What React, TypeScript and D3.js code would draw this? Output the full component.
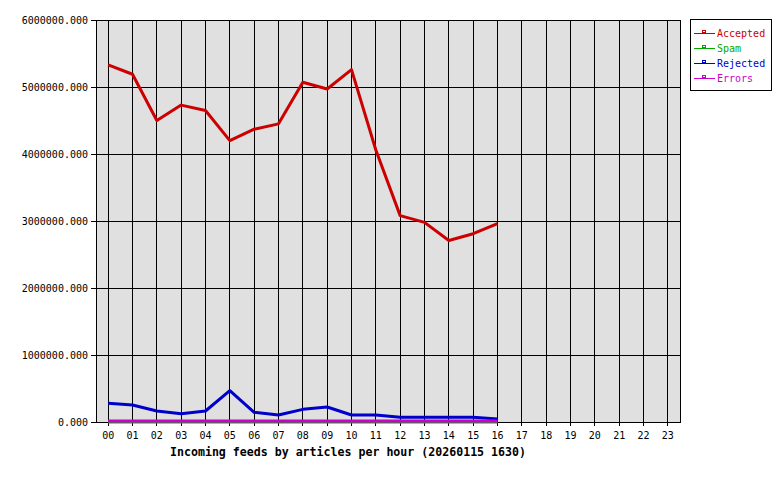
import React from "react";
import * as d3 from "d3";

const hours = ["00","01","02","03","04","05","06","07","08","09","10","11","12","13","14","15","16","17","18","19","20","21","22","23"];
const accepted = [5330000, 5190000, 4500000, 4730000, 4650000, 4200000, 4370000, 4450000, 5070000, 4970000, 5260000, 4060000, 3080000, 2980000, 2710000, 2810000, 2960000];
const spam = [0, 0, 0, 0, 0, 0, 0, 0, 0, 0, 0, 0, 0, 0, 0, 0, 0];
const rejected = [279000, 254000, 164000, 124000, 164000, 467000, 145000, 104000, 189000, 224000, 104000, 104000, 70000, 70000, 70000, 70000, 45000];
const errors = [15000, 15000, 15000, 15000, 15000, 15000, 15000, 15000, 15000, 15000, 15000, 15000, 15000, 15000, 15000, 15000, 15000];
const yTicks = [0, 1000000, 2000000, 3000000, 4000000, 5000000, 6000000];
const seriesNames = ["Accepted", "Spam", "Rejected", "Errors"];
const seriesColors = ["#cc0000", "#00aa00", "#0000cc", "#cc00cc"];
const title = "Incoming feeds by articles per hour (20260115 1630)";

export default function App() {
  const W = 780, H = 480;
  const left = 96, right = 680, top = 20, bottom = 422;
  const x = d3.scaleBand<string>().domain(hours).range([left, right]);
  const cx = (i: number) => (x(hours[i]) as number) + x.bandwidth() / 2;
  const y = d3.scaleLinear().domain([0, 6000000]).range([bottom, top]);
  const line = d3.line<number>().x((_, i) => cx(i)).y(d => y(d));
  const data = [accepted, spam, rejected, errors];
  const mono = "'DejaVu Sans Mono', monospace";
  return (
    <svg width={W} height={H} style={{ position: "absolute", left: 0, top: 0, background: "#fff" }}>
      <rect x={left} y={top} width={right - left} height={bottom - top} fill="#e0e0e0" />
      {hours.map((h, i) => (
        <line key={"vg" + h} x1={cx(i) } x2={cx(i)} y1={top} y2={bottom + 4} stroke="#000" strokeWidth={1} shapeRendering="crispEdges" />
      ))}
      {yTicks.map(t => (
        <line key={"hg" + t} x1={left - 5} x2={right} y1={y(t)} y2={y(t)} stroke="#000" strokeWidth={1} shapeRendering="crispEdges" />
      ))}
      <rect x={left} y={top} width={right - left} height={bottom - top} fill="none" stroke="#000" strokeWidth={1} shapeRendering="crispEdges" />
      {yTicks.map(t => (
        <text key={"yl" + t} x={88} y={y(t)} dy="0.35em" textAnchor="end" fontFamily={mono} fontSize={10} fill="#000">
          {d3.format(".3f")(t)}
        </text>
      ))}
      {hours.map((h, i) => (
        <text key={"xl" + h} x={cx(i)} y={439} textAnchor="middle" fontFamily={mono} fontSize={10} fill="#000">{h}</text>
      ))}
      {data.map((s, k) => (
        <path key={"s" + k} d={line(s) || ""} fill="none" stroke={seriesColors[k]} strokeWidth={3} strokeLinejoin="round" />
      ))}
      <text x={170} y={456} fontFamily={mono} fontWeight="bold" fontSize={11.6} fill="#000">{title}</text>
      <rect x={690.5} y={19.5} width={81} height={71} fill="#fff" stroke="#000" strokeWidth={1} shapeRendering="crispEdges" />
      {seriesNames.map((n, k) => {
        const ly = 33 + k * 15;
        return (
          <g key={"lg" + n}>
            <line x1={694} x2={715} y1={ly} y2={ly} stroke={seriesColors[k]} strokeWidth={1} shapeRendering="crispEdges" />
            <rect x={702.5} y={ly - 2.5} width={3} height={2} fill="none" stroke={seriesColors[k]} strokeWidth={1} shapeRendering="crispEdges" />
            <text x={717} y={ly} dy="0.35em" fontFamily={mono} fontSize={10} fill={seriesColors[k]}>{n}</text>
          </g>
        );
      })}
    </svg>
  );
}
